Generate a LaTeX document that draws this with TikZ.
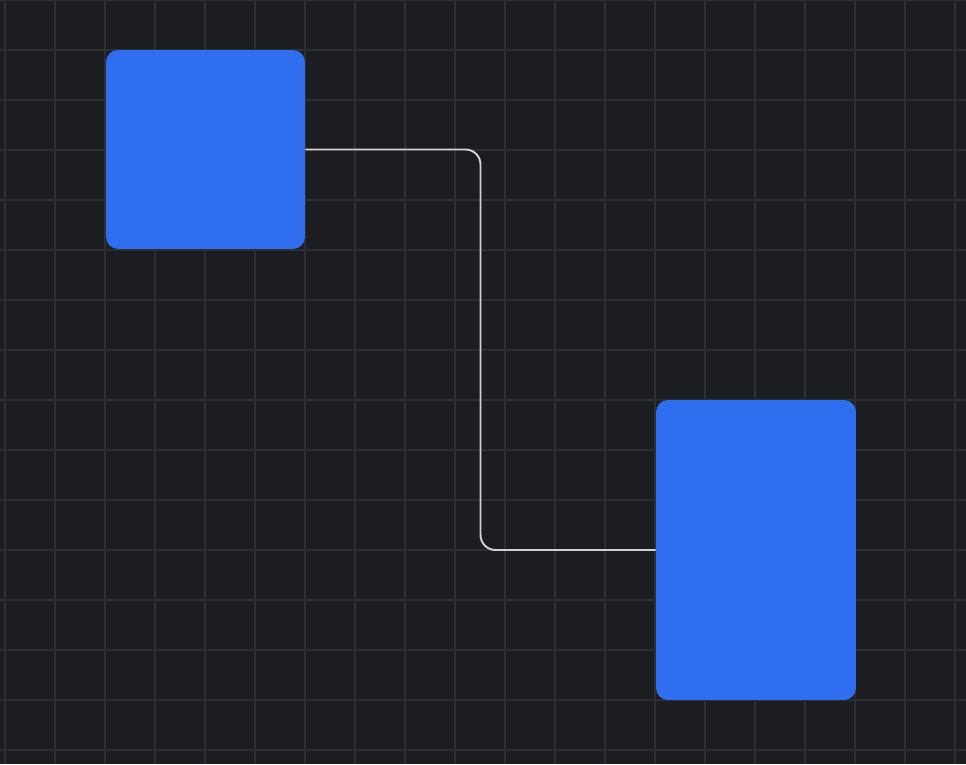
\documentclass[tikz,border=0pt]{standalone}
\usepackage{tikz}
\usetikzlibrary{calc}
\definecolor{bgdark}{HTML}{1C1D21}
\definecolor{gridgray}{HTML}{2D2E32}
\definecolor{boxblue}{HTML}{306EF0}
\definecolor{linkgray}{HTML}{D2D2D2}
\begin{document}
\begin{tikzpicture}[x=.02cm, y=-.02cm,
		box/.style={fill=boxblue, draw=none, rounded corners=.24cm, inner sep=0pt},
		link/.style={draw=linkgray, line width=1.1pt, rounded corners=.3cm}]
		\useasboundingbox (0,0) rectangle (966,764);
		\fill[bgdark](0,0) rectangle (966,764);
		\foreach \x in {5,55,...,955}\draw[gridgray, line width=1.1pt](\x,0)--(\x,764);
		\foreach \y in {0,50,...,750}\draw[gridgray, line width=1.1pt](0,\y)--(966,\y);
		\node[box, minimum width=3.98cm, minimum height=3.98cm](src) at (205.5,149.5){};
		\node[box, minimum width=4cm, minimum height=6cm](dst) at (756,550){};
		\coordinate(bend) at ($(src.east)!.5!(dst.west)$);
		\draw[link](src.east) -| (bend |- dst.west) -- (dst.west);
	\end{tikzpicture}
\end{document}
